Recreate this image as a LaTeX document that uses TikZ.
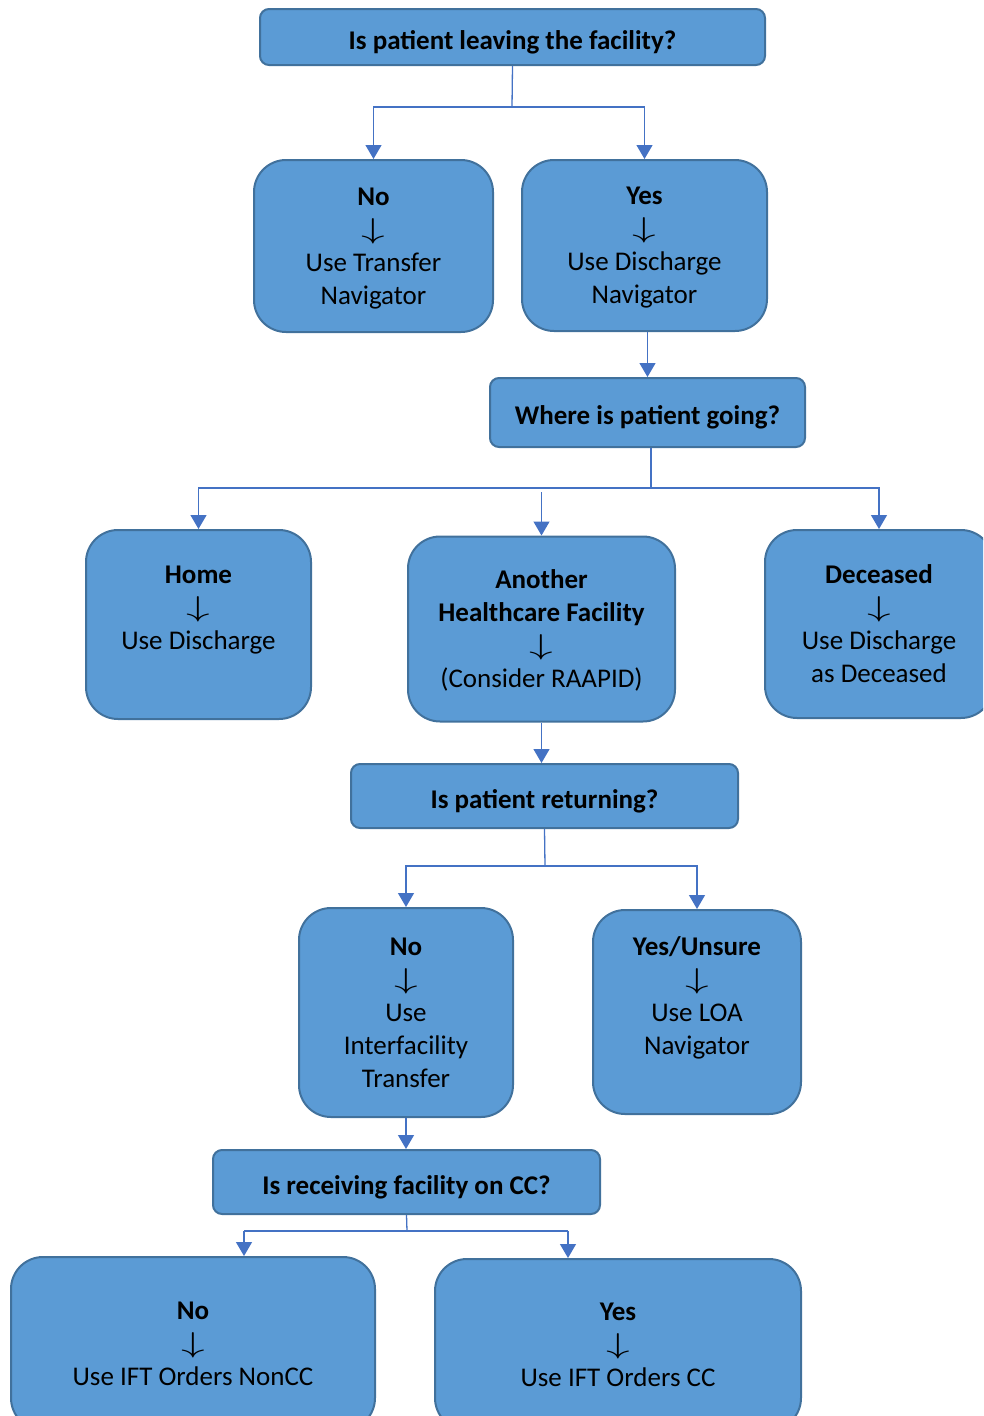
\documentclass[tikz,border=0pt]{standalone}
\usepackage{fontspec}
\setmainfont{Carlito}
\newcommand{\dn}{\smash{\scalebox{1.9}[1.15]{$\downarrow$}}}
\usetikzlibrary{arrows.meta}

\definecolor{boxfill}{HTML}{5B9BD5}
\definecolor{boxline}{HTML}{41719C}
\definecolor{linkblue}{HTML}{4472C4}

\begin{document}
\begin{tikzpicture}[x=1pt, y=-1pt,
  every node/.style={font=\fontsize{27}{33}\selectfont, align=center, text=black},
  qbox/.style={draw=boxline, fill=boxfill, line width=2pt, rounded corners=9pt,
    font=\fontsize{27}{33}\selectfont\bfseries, text height=24pt, text depth=0pt},
  abox/.style={draw=boxline, fill=boxfill, line width=2pt, rounded corners=32pt, text depth=0pt},
  link/.style={draw=linkblue, line width=1.3pt},
  arr/.style={link, -{Triangle[width=16pt,length=14pt]}}]

\useasboundingbox (0,0) rectangle (983,1416);
\clip (0,0) rectangle (983,1416);

% Question boxes
\node[qbox, minimum width=505pt, minimum height=56pt] (leave) at (512.5,37) {Is patient leaving the facility?};
\node[qbox, minimum width=315pt, minimum height=69pt] (where) at (647.5,412.5) {Where is patient going?};
\node[qbox, minimum width=387pt, minimum height=64pt] (ret) at (544.5,796) {Is patient returning?};
\node[qbox, minimum width=387pt, minimum height=64pt] (cc) at (406.5,1182) {Is receiving facility on CC?};

% Answer boxes
\node[abox, minimum width=239pt, minimum height=172pt] (no1) at (373.5,246)
{\textbf{No}\\\dn\\Use Transfer\\Navigator};
\node[abox, minimum width=245pt, minimum height=171pt] (yes1) at (644.5,245.5)
{\textbf{Yes}\\\dn\\Use Discharge\\Navigator};

\node[abox, minimum width=225pt, minimum height=189pt] (home) at (198.5,624.5)
{\textbf{Home}\\\dn\\Use Discharge\\~};
\node[abox, minimum width=267pt, minimum height=185pt] (another) at (541.5,629)
{\textbf{Another}\\\textbf{Healthcare Facility}\\\dn\\(Consider RAAPID)};
\node[abox, minimum width=228pt, minimum height=188pt] (dead) at (879,624)
{\textbf{Deceased}\\\dn\\Use Discharge\\as Deceased};

\node[abox, minimum width=214pt, minimum height=209pt] (no2) at (406,1012.5)
{\textbf{No}\\\dn\\Use\\Interfacility\\Transfer};
\node[abox, minimum width=208pt, minimum height=204pt] (yesun) at (697,1012)
{\textbf{Yes/Unsure}\\\dn\\Use LOA\\Navigator\\~};

\node[abox, minimum width=364pt, minimum height=173pt] (no3) at (193,1343.5)
{\textbf{No}\\\dn\\Use IFT Orders NonCC};
\node[abox, minimum width=366pt, minimum height=171pt] (yes3) at (618,1344.5)
{\textbf{Yes}\\\dn\\Use IFT Orders CC};

% Junctions
\coordinate (j1) at (512,107);
\coordinate (j2) at (651,488);
\coordinate (j3) at (545,866);
\coordinate (j4) at (407,1231);
\coordinate (c3l) at (244,1231);
\coordinate (c3r) at (568,1231);

% Connectors
\draw[link] (leave.south) -- (j1);
\draw[arr] (j1) -| (no1);
\draw[arr] (j1) -| (yes1);

\draw[arr] (where.north |- yes1.south) -- (where.north);

\draw[link] (j2 |- where.south) -- (j2);
\draw[arr] (j2) -| (home);
\draw[arr] (j2) -| (dead);
\draw[arr] (another.north |- 0,492) -- (another.north);

\draw[arr] (another.south) -- (another.south |- ret.north);

\draw[link] (ret.south) -- (j3);
\draw[arr] (j3) -| (no2);
\draw[arr] (j3) -| (yesun);

\draw[arr] (no2.south) -- (no2.south |- cc.north);

\draw[link] (cc.south) -- (j4);
\draw[link] (c3l) -- (c3r);
\draw[arr] (c3l) -- (c3l |- no3.north);
\draw[arr] (c3r) -- (c3r |- yes3.north);

\end{tikzpicture}
\end{document}
